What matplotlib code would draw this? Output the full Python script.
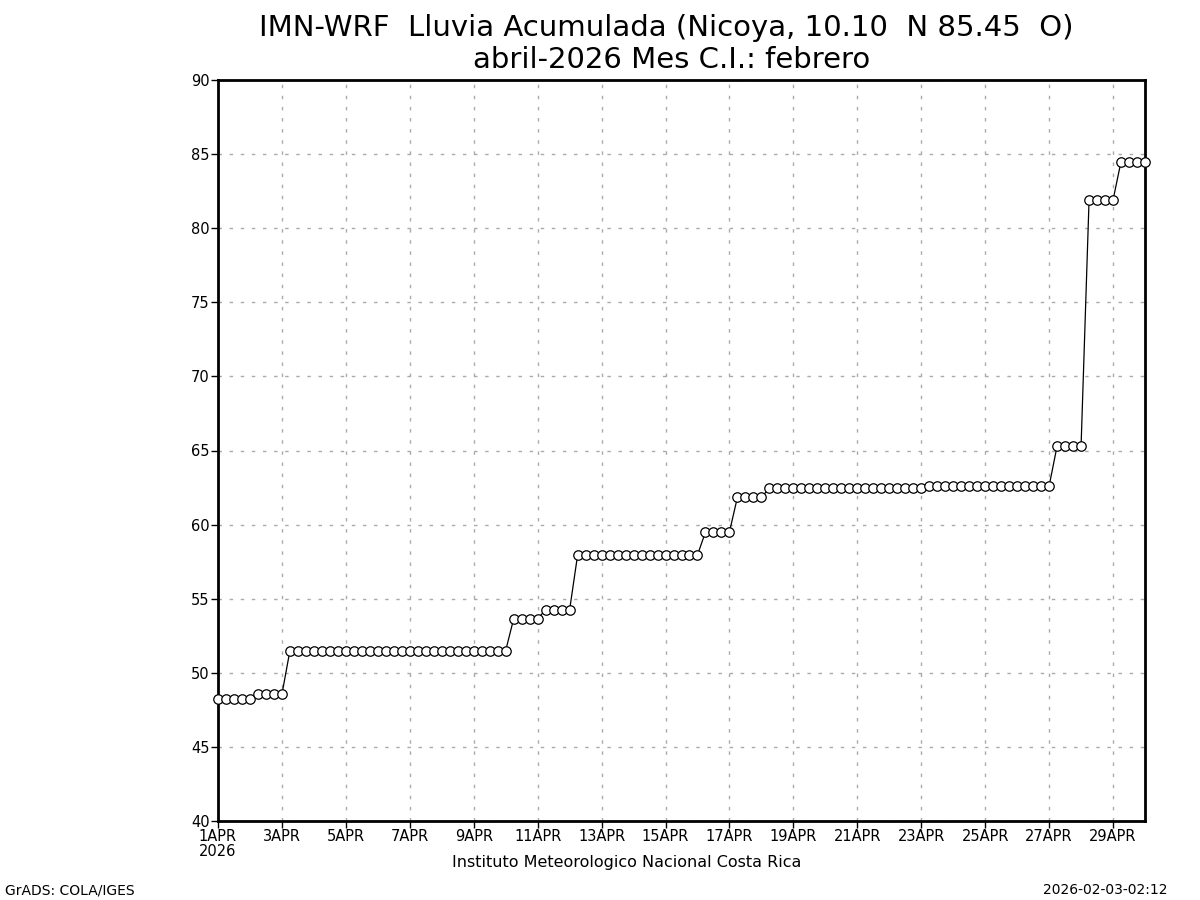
import matplotlib
matplotlib.use("Agg")
import matplotlib.pyplot as plt
import numpy as np

# lluvia acumulada cada 6 h, 1APR00 .. 30APR00 (grupos: n puntos, valor mm)
group_len = [5, 4, 28, 4, 4, 16, 4, 4, 20, 16, 4, 4, 4]
group_val = [48.2, 48.55, 51.5, 53.65, 54.25, 57.95, 59.5, 61.85, 62.45, 62.6, 65.3, 81.9, 84.5]
rain = np.repeat(group_val, group_len)
hours = np.arange(len(rain)) * 6 / 24.0   # dias desde 1APR

tick_days = np.arange(0, 29, 2)
tick_labels = ["1APR\n2026"] + ["%dAPR" % (d + 1) for d in tick_days[1:]]
yticks = np.arange(40, 91, 5)

fig = plt.figure(figsize=(12, 9), dpi=100)
ax = fig.add_axes([218/1200, 1-821/900, (1145-218)/1200, (821-80)/900])

ax.plot(hours, rain, color="black", lw=0.9, marker="o", ms=6.8,
        mfc="white", mec="black", mew=0.9, clip_on=False, zorder=3)

ax.set_xlim(0, hours[-1])
ax.set_ylim(40, 90)
ax.set_xticks(tick_days)
ax.set_xticklabels(tick_labels, fontsize=10.5, ha="center", va="top", linespacing=0.95)
ax.set_yticks(yticks)
ax.set_yticklabels([str(v) for v in yticks], fontsize=10.5)
ax.tick_params(direction="out", length=5, width=1, pad=1)
ax.grid(True, color="#aaaaaa", linestyle=(0, (2.5, 5.5)), lw=1)
for s in ax.spines.values():
    s.set_linewidth(2)

fig.text(0.555, 0.985, "IMN-WRF  Lluvia Acumulada (Nicoya, 10.10  N 85.45  O)",
         ha="center", va="top", fontsize=21)
fig.text(0.56, 0.949, "abril-2026 Mes C.I.: febrero", ha="center", va="top", fontsize=21)
fig.text(627/1200, 1-863/900, "Instituto Meteorologico Nacional Costa Rica",
         ha="center", va="center", fontsize=11.5)
fig.text(5/1200, 1-890/900, "GrADS: COLA/IGES", ha="left", va="center", fontsize=10)
fig.text(1168/1200, 1-890/900, "2026-02-03-02:12", ha="right", va="center", fontsize=10)

fig.savefig("out.png", dpi=100)
